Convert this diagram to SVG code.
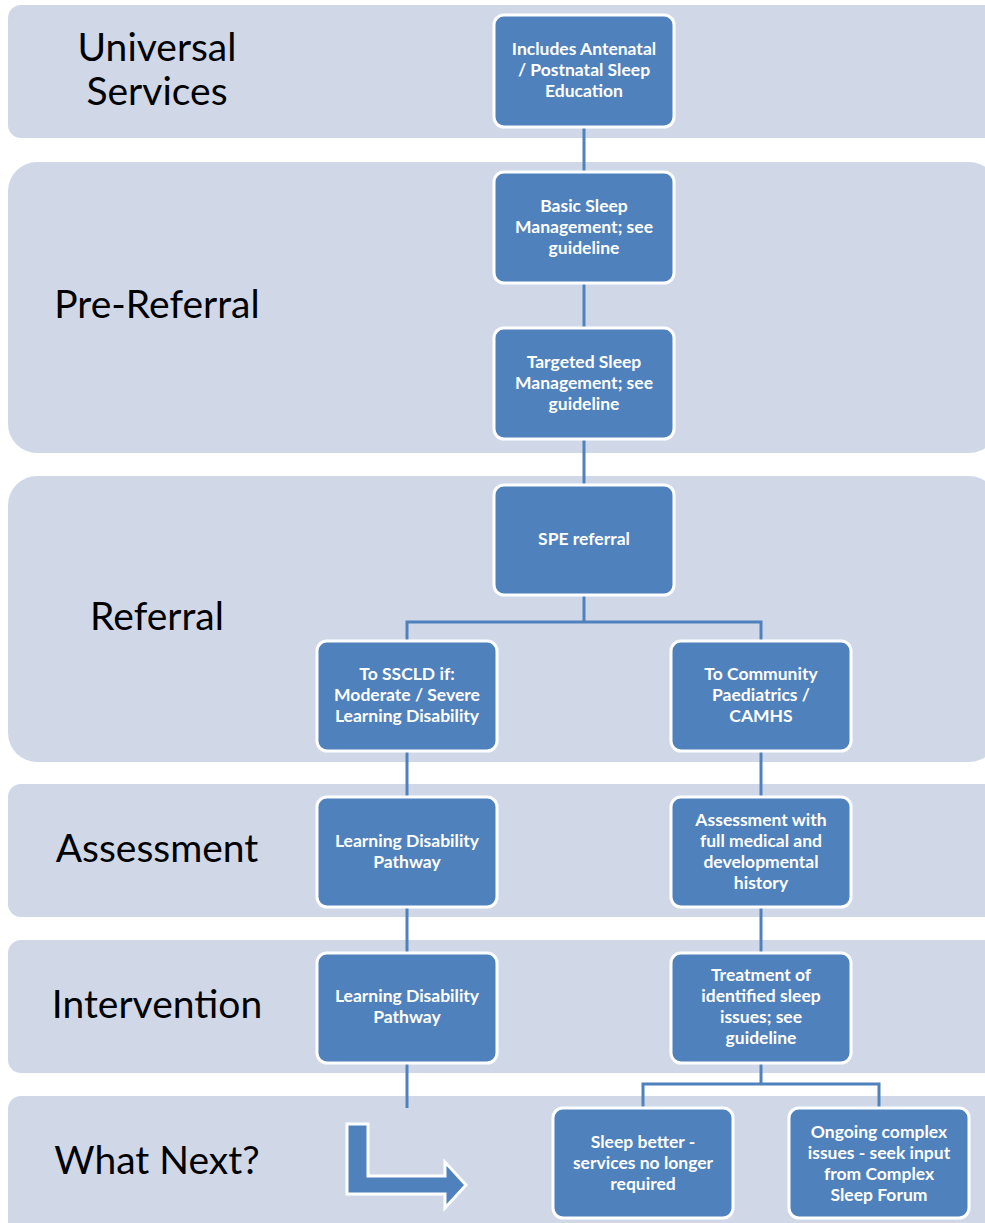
<svg xmlns="http://www.w3.org/2000/svg" width="985" height="1223" viewBox="0 0 985 1223">
<style>
.band{fill:#D0D8E8}
.box{fill:#4F81BD;stroke:#FFFFFF;stroke-width:3}
.bl{font-family:Lato,"Open Sans","Liberation Sans",sans-serif;font-size:39px;fill:#000;text-anchor:middle}
.bt{font-family:Lato,"Open Sans","Liberation Sans",sans-serif;font-size:17.5px;font-weight:bold;fill:#FFFFFF;text-anchor:middle}
.con{fill:none;stroke:#4F81BD;stroke-width:3}
</style>
<rect width="985" height="1223" fill="#FFFFFF"/>
<g id="bands">
<rect class="band" x="8" y="5" width="990" height="133" rx="13"/>
<rect class="band" x="8" y="162" width="990" height="291" rx="29"/>
<rect class="band" x="8" y="476" width="990" height="286" rx="29"/>
<rect class="band" x="8" y="784" width="990" height="133" rx="13"/>
<rect class="band" x="8" y="940" width="990" height="133" rx="13"/>
<rect class="band" x="8" y="1096" width="990" height="140" rx="13"/>
</g>
<g id="band-labels">
<text class="bl" x="157" y="61">Universal</text>
<text class="bl" x="157" y="105">Services</text>
<text class="bl" x="157" y="318">Pre-Referral</text>
<text class="bl" x="157" y="630">Referral</text>
<text class="bl" x="157" y="862">Assessment</text>
<text class="bl" x="157" y="1018">Intervention</text>
<text class="bl" x="157" y="1174">What Next?</text>
</g>
<g id="connectors">
<path class="con" d="M584 127V172"/>
<path class="con" d="M584 283V328"/>
<path class="con" d="M584 439V485"/>
<path class="con" d="M584 595V622H407V641M584 622H761V641"/>
<path class="con" d="M407 751V797"/>
<path class="con" d="M761 751V797"/>
<path class="con" d="M407 907V953"/>
<path class="con" d="M761 907V953"/>
<path class="con" d="M407 1063V1108"/>
<path class="con" d="M761 1063V1084H643V1108M761 1084H879V1108"/>
</g>
<g id="n1"><rect class="box" x="494" y="15" width="180" height="112" rx="10"/>
<text class="bt" x="584" y="55">Includes Antenatal</text><text class="bt" x="584" y="76">/ Postnatal Sleep</text><text class="bt" x="584" y="97">Education</text></g>
<g id="n2"><rect class="box" x="494" y="172" width="180" height="111" rx="10"/>
<text class="bt" x="584" y="212">Basic Sleep</text><text class="bt" x="584" y="233">Management; see</text><text class="bt" x="584" y="254">guideline</text></g>
<g id="n3"><rect class="box" x="494" y="328" width="180" height="111" rx="10"/>
<text class="bt" x="584" y="368">Targeted Sleep</text><text class="bt" x="584" y="389">Management; see</text><text class="bt" x="584" y="410">guideline</text></g>
<g id="n4"><rect class="box" x="494" y="485" width="180" height="110" rx="10"/>
<text class="bt" x="584" y="545">SPE referral</text></g>
<g id="n5"><rect class="box" x="317" y="641" width="180" height="110" rx="10"/>
<text class="bt" x="407" y="680">To SSCLD if:</text><text class="bt" x="407" y="701">Moderate / Severe</text><text class="bt" x="407" y="722">Learning Disability</text></g>
<g id="n6"><rect class="box" x="671" y="641" width="180" height="110" rx="10"/>
<text class="bt" x="761" y="680">To Community</text><text class="bt" x="761" y="701">Paediatrics /</text><text class="bt" x="761" y="722">CAMHS</text></g>
<g id="n7"><rect class="box" x="317" y="797" width="180" height="110" rx="10"/>
<text class="bt" x="407" y="847">Learning Disability</text><text class="bt" x="407" y="868">Pathway</text></g>
<g id="n8"><rect class="box" x="671" y="797" width="180" height="110" rx="10"/>
<text class="bt" x="761" y="826">Assessment with</text><text class="bt" x="761" y="847">full medical and</text><text class="bt" x="761" y="868">developmental</text><text class="bt" x="761" y="889">history</text></g>
<g id="n9"><rect class="box" x="317" y="953" width="180" height="110" rx="10"/>
<text class="bt" x="407" y="1002">Learning Disability</text><text class="bt" x="407" y="1023">Pathway</text></g>
<g id="n10"><rect class="box" x="671" y="953" width="180" height="110" rx="10"/>
<text class="bt" x="761" y="981">Treatment of</text><text class="bt" x="761" y="1002">identified sleep</text><text class="bt" x="761" y="1023">issues; see</text><text class="bt" x="761" y="1044">guideline</text></g>
<g id="n11"><rect class="box" x="553" y="1108" width="180" height="110" rx="10"/>
<text class="bt" x="643" y="1148">Sleep better -</text><text class="bt" x="643" y="1169">services no longer</text><text class="bt" x="643" y="1190">required</text></g>
<g id="n12"><rect class="box" x="789" y="1108" width="180" height="110" rx="10"/>
<text class="bt" x="879" y="1138">Ongoing complex</text><text class="bt" x="879" y="1159">issues - seek input</text><text class="bt" x="879" y="1180">from Complex</text><text class="bt" x="879" y="1201">Sleep Forum</text></g>
<g id="bent-arrow"><path d="M347 1124H368V1176H445V1162L466 1185L445 1208V1194H347Z" fill="#4F81BD" stroke="#FFFFFF" stroke-width="3" stroke-linejoin="miter"/></g>
</svg>
